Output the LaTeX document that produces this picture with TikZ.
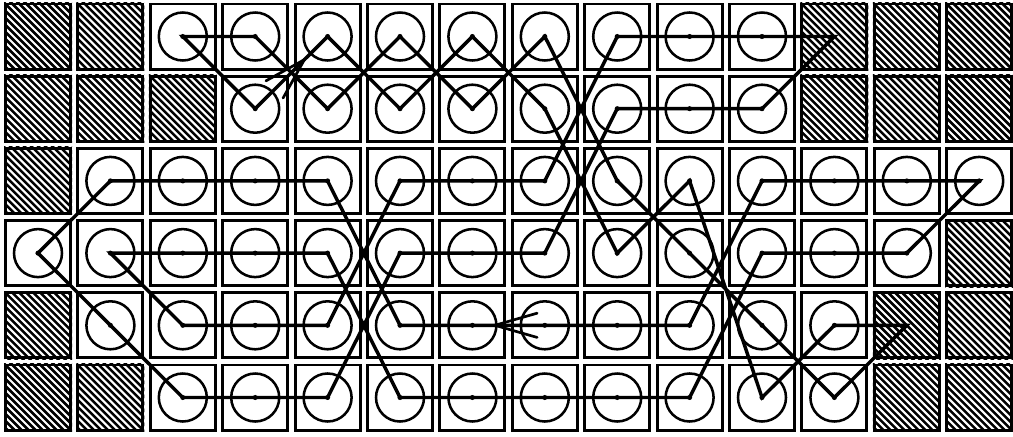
\documentclass[tikz,border=0pt]{standalone}
\usetikzlibrary{calc}
\begin{document}
\begin{tikzpicture}[x=0.75pt,y=-0.75pt,
  cellbox/.style={draw, line width=2.2pt, minimum width=48.8pt, minimum height=48.8pt, inner sep=0pt},
  ring/.style={draw, circle, line width=1.9pt, minimum size=36pt, inner sep=0pt},
  route/.style={line width=2.6pt, line join=miter},
  barb/.style={line width=2pt, line cap=round},
  hatchline/.style={line width=1.9pt}]
\useasboundingbox (0,0) rectangle (1013,436);
\fill[white] (0,0) rectangle (1013,436);
% cell centres
\foreach \c in {0,...,13}{
  \foreach \r in {0,...,5}{
    \coordinate (p-\c-\r) at ({38+72.4*\c},{36.5+72.2*\r});
  }
}
% boxes
\foreach \c in {0,...,13}{
  \foreach \r in {0,...,5}{
    \node[cellbox] (b-\c-\r) at (p-\c-\r) {};
  }
}
% hatched cells
\foreach \c/\r in {0/0,1/0,11/0,12/0,13/0,0/1,1/1,2/1,11/1,12/1,13/1,0/2,13/3,0/4,12/4,13/4,0/5,1/5,12/5,13/5}{
  \begin{scope}
    \clip (b-\c-\r.south west) rectangle (b-\c-\r.north east);
    \foreach \k in {-11,...,11}{
      \draw[hatchline] ($(p-\c-\r)+(\k*7-45,-45)$) -- ($(p-\c-\r)+(\k*7+45,45)$);
    }
  \end{scope}
}
% rings
\foreach \r/\a/\b in {0/2/10,1/3/10,2/1/13,3/0/12,4/1/11,5/2/11}{
  \foreach \c in {\a,...,\b}{
    \node[ring] (n-\c-\r) at (p-\c-\r) {};
  }
}
% first loop
\draw[route] (p-2-0) -- (p-3-1) -- (p-4-0) -- (p-5-1) -- (p-6-0) -- (p-7-1) -- (p-8-3) -- (p-9-2) -- (p-10-5) -- (p-11-4) -- (p-12-4) -- (p-11-5) -- (p-10-4) -- (p-9-3) -- (p-8-2) -- (p-7-0) -- (p-6-1) -- (p-5-0) -- (p-4-1) -- (p-3-0) -- cycle;
% second loop
\draw[route] (p-8-0) -- (p-7-2) -- (p-6-2) -- (p-5-2) -- (p-4-4) -- (p-3-4) -- (p-2-4) -- (p-1-3) -- (p-2-3) -- (p-3-3) -- (p-4-3) -- (p-5-5) -- (p-6-5) -- (p-7-5) -- (p-8-5) -- (p-9-5) -- (p-10-3) -- (p-11-3) -- (p-12-3) -- (p-13-2) -- (p-12-2) -- (p-11-2) -- (p-10-2) -- (p-9-4) -- (p-8-4) -- (p-7-4) -- (p-6-4) -- (p-5-4) -- (p-4-2) -- (p-3-2) -- (p-2-2) -- (p-1-2) -- (p-0-3) -- (p-1-4) -- (p-2-5) -- (p-3-5) -- (p-4-5) -- (p-5-3) -- (p-6-3) -- (p-7-3) -- (p-8-1) -- (p-9-1) -- (p-10-1) -- (p-11-0) -- (p-10-0) -- (p-9-0) -- cycle;
% centre dots
\foreach \r/\a/\b in {0/2/10,1/3/10,2/1/13,3/0/12,4/1/11,5/2/11}{
  \foreach \c in {\a,...,\b}{
    \fill (n-\c-\r.center) circle (1.9pt);
  }
}
% arrowheads
\coordinate (t1) at ($(p-3-1)!0.68!(p-4-0)$);
\coordinate (t2) at ($(p-7-4)!0.69!(p-6-4)$);
\draw[barb] (t1) -- ($(t1)!33pt!16:(p-3-1)$);
\draw[barb] (t1) -- ($(t1)!33pt!-16:(p-3-1)$);
\draw[barb] (t2) -- ($(t2)!33pt!16:(p-7-4)$);
\draw[barb] (t2) -- ($(t2)!33pt!-16:(p-7-4)$);
\end{tikzpicture}
\end{document}
